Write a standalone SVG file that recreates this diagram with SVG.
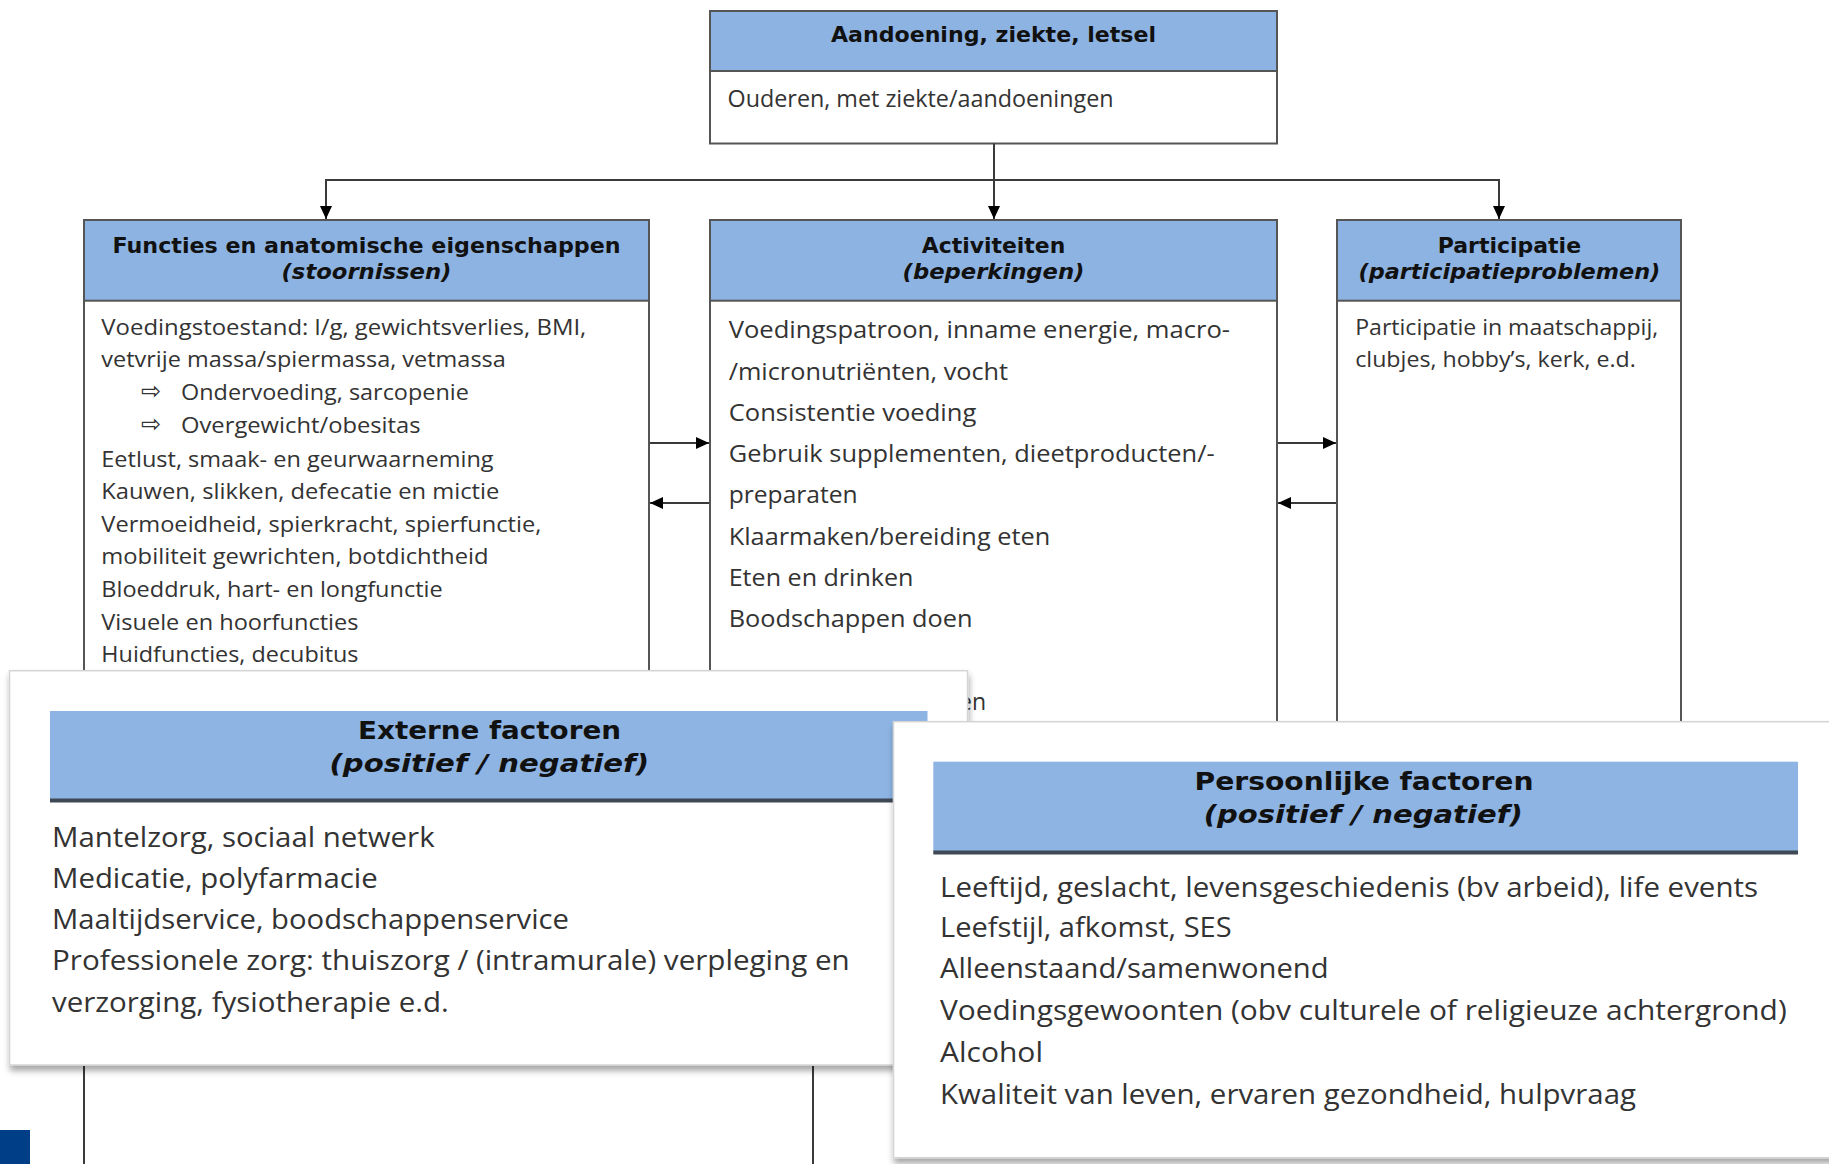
<svg xmlns="http://www.w3.org/2000/svg" width="1829" height="1164" viewBox="0 0 1829 1164">
<style>
.box{fill:#fff;stroke:#555;stroke-width:2}
.hdr{fill:#8DB3E2;stroke:#555;stroke-width:2}
.band{fill:#8DB4E3}
.bandline{stroke:#3E4955;stroke-width:4}
.card{fill:#fff;stroke:#d4d4d4;stroke-width:1.5}
.h{font-family:"DejaVu Sans",Verdana,sans-serif;font-weight:bold;font-size:21.5px;fill:#111}
.hi{font-family:"DejaVu Sans",Verdana,sans-serif;font-weight:bold;font-style:italic;font-size:21.5px;fill:#111}
.big{font-size:25.5px}
.b{font-family:"Open Sans","Noto Sans",sans-serif;fill:#333}
.b21{font-size:21px}
.b23{font-size:23px}
.b26{font-size:26.5px}
.sym{font-family:"DejaVu Sans",sans-serif;font-size:24px;fill:#333}
.conn{stroke:#3a3a3a;stroke-width:2;fill:none}
</style>
<defs>
<marker id="ah" markerUnits="userSpaceOnUse" markerWidth="13" markerHeight="12" refX="13" refY="6" orient="auto">
<path d="M0,0 L13,6 L0,12 z" fill="#000"/>
</marker>
<filter id="sh" x="-5%" y="-5%" width="112%" height="120%">
<feDropShadow dx="1" dy="5" stdDeviation="3" flood-color="#000" flood-opacity="0.35"/>
</filter>
</defs>
<rect width="1829" height="1164" fill="#fff"/>

<g id="node-aandoening">
<rect class="box" x="710" y="11" width="567" height="132.5"/>
<rect class="hdr" x="710" y="11" width="567" height="60"/>
<text class="h" x="993.5" y="42" text-anchor="middle" textLength="325" lengthAdjust="spacingAndGlyphs">Aandoening, ziekte, letsel</text>
<text class="b b23" x="727.6" y="106.7" textLength="386" lengthAdjust="spacingAndGlyphs">Ouderen, met ziekte/aandoeningen</text>
</g>

<g id="node-functies">
<rect class="box" x="84" y="220" width="565" height="780"/>
<rect class="hdr" x="84" y="220" width="565" height="80.7"/>
<text class="h" x="366.5" y="252.7" text-anchor="middle" textLength="508" lengthAdjust="spacingAndGlyphs">Functies en anatomische eigenschappen</text>
<text class="hi" x="366.5" y="279.3" text-anchor="middle" textLength="170" lengthAdjust="spacingAndGlyphs">(stoornissen)</text>
<text class="b b21" x="101.3" y="335" textLength="485" lengthAdjust="spacingAndGlyphs">Voedingstoestand: l/g, gewichtsverlies, BMI,</text>
<text class="b b21" x="101.3" y="366.7" textLength="404.5" lengthAdjust="spacingAndGlyphs">vetvrije massa/spiermassa, vetmassa</text>
<text class="sym" x="141" y="399">⇨</text>
<text class="b b21" x="181" y="400" textLength="287.8" lengthAdjust="spacingAndGlyphs">Ondervoeding, sarcopenie</text>
<text class="sym" x="141" y="432.3">⇨</text>
<text class="b b21" x="181" y="433.3" textLength="239.6" lengthAdjust="spacingAndGlyphs">Overgewicht/obesitas</text>
<text class="b b21" x="101.3" y="466.7" textLength="392.3" lengthAdjust="spacingAndGlyphs">Eetlust, smaak- en geurwaarneming</text>
<text class="b b21" x="101.3" y="499" textLength="398" lengthAdjust="spacingAndGlyphs">Kauwen, slikken, defecatie en mictie</text>
<text class="b b21" x="101.3" y="531.7" textLength="440" lengthAdjust="spacingAndGlyphs">Vermoeidheid, spierkracht, spierfunctie,</text>
<text class="b b21" x="101.3" y="564.3" textLength="387.3" lengthAdjust="spacingAndGlyphs">mobiliteit gewrichten, botdichtheid</text>
<text class="b b21" x="101.3" y="597.3" textLength="341.4" lengthAdjust="spacingAndGlyphs">Bloeddruk, hart- en longfunctie</text>
<text class="b b21" x="101.3" y="630" textLength="257.2" lengthAdjust="spacingAndGlyphs">Visuele en hoorfuncties</text>
<text class="b b21" x="101.3" y="662.3" textLength="257.2" lengthAdjust="spacingAndGlyphs">Huidfuncties, decubitus</text>
</g>

<g id="node-activiteiten">
<rect class="box" x="710" y="220" width="567" height="680"/>
<rect class="hdr" x="710" y="220" width="567" height="80.7"/>
<text class="h" x="993.5" y="252.7" text-anchor="middle" textLength="143.5" lengthAdjust="spacingAndGlyphs">Activiteiten</text>
<text class="hi" x="993.5" y="279.3" text-anchor="middle" textLength="181.8" lengthAdjust="spacingAndGlyphs">(beperkingen)</text>
<text class="b b23" x="728.7" y="338.3" textLength="501.3" lengthAdjust="spacingAndGlyphs">Voedingspatroon, inname energie, macro-</text>
<text class="b b23" x="728.7" y="380" textLength="279.4" lengthAdjust="spacingAndGlyphs">/micronutriënten, vocht</text>
<text class="b b23" x="728.7" y="420.7" textLength="247.6" lengthAdjust="spacingAndGlyphs">Consistentie voeding</text>
<text class="b b23" x="728.7" y="461.7" textLength="486" lengthAdjust="spacingAndGlyphs">Gebruik supplementen, dieetproducten/-</text>
<text class="b b23" x="728.7" y="503.3" textLength="129" lengthAdjust="spacingAndGlyphs">preparaten</text>
<text class="b b23" x="728.7" y="545" textLength="321.5" lengthAdjust="spacingAndGlyphs">Klaarmaken/bereiding eten</text>
<text class="b b23" x="728.7" y="586" textLength="184.8" lengthAdjust="spacingAndGlyphs">Eten en drinken</text>
<text class="b b23" x="728.7" y="627.3" textLength="243.8" lengthAdjust="spacingAndGlyphs">Boodschappen doen</text>
<text class="b b23" x="959" y="710">en</text>
</g>

<g id="node-participatie">
<rect class="box" x="1337" y="220" width="344" height="680"/>
<rect class="hdr" x="1337" y="220" width="344" height="80.7"/>
<text class="h" x="1509.4" y="252.7" text-anchor="middle" textLength="143.3" lengthAdjust="spacingAndGlyphs">Participatie</text>
<text class="hi" x="1509.4" y="279.3" text-anchor="middle" textLength="301.7" lengthAdjust="spacingAndGlyphs">(participatieproblemen)</text>
<text class="b b21" x="1355.2" y="335" textLength="303" lengthAdjust="spacingAndGlyphs">Participatie in maatschappij,</text>
<text class="b b21" x="1355.2" y="366.7" textLength="280.7" lengthAdjust="spacingAndGlyphs">clubjes, hobby’s, kerk, e.d.</text>
</g>

<g id="connectors">
<line class="conn" x1="994" y1="143.5" x2="994" y2="219" marker-end="url(#ah)"/>
<polyline class="conn" points="326,219 326,180 1499,180 1499,219" marker-end="url(#ah)"/>
<line class="conn" x1="326" y1="181" x2="326" y2="219" marker-end="url(#ah)"/>
<line class="conn" x1="650" y1="443" x2="709" y2="443" marker-end="url(#ah)"/>
<line class="conn" x1="709" y1="503" x2="650" y2="503" marker-end="url(#ah)"/>
<line class="conn" x1="1278" y1="443" x2="1336" y2="443" marker-end="url(#ah)"/>
<line class="conn" x1="1336" y1="503" x2="1278" y2="503" marker-end="url(#ah)"/>
<line class="conn" x1="84" y1="1066" x2="84" y2="1164" stroke="#555"/>
<line class="conn" x1="813" y1="1066" x2="813" y2="1164" stroke="#555"/>
</g>

<g id="node-externe">
<rect class="card" x="9.5" y="670.7" width="958" height="394.3" filter="url(#sh)"/>
<rect class="band" x="50" y="711" width="877.5" height="88"/>
<line class="bandline" x1="50" y1="800.5" x2="927.5" y2="800.5"/>
<text class="h big" x="489.5" y="739" text-anchor="middle" textLength="263" lengthAdjust="spacingAndGlyphs">Externe factoren</text>
<text class="hi big" x="489.3" y="772" text-anchor="middle" textLength="319.6" lengthAdjust="spacingAndGlyphs">(positief / negatief)</text>
<text class="b b26" x="52" y="846.5" textLength="382.6" lengthAdjust="spacingAndGlyphs">Mantelzorg, sociaal netwerk</text>
<text class="b b26" x="52" y="887.5" textLength="325.7" lengthAdjust="spacingAndGlyphs">Medicatie, polyfarmacie</text>
<text class="b b26" x="52" y="928.7" textLength="517" lengthAdjust="spacingAndGlyphs">Maaltijdservice, boodschappenservice</text>
<text class="b b26" x="52" y="970" textLength="797.7" lengthAdjust="spacingAndGlyphs">Professionele zorg: thuiszorg / (intramurale) verpleging en</text>
<text class="b b26" x="52" y="1011.7" textLength="396.7" lengthAdjust="spacingAndGlyphs">verzorging, fysiotherapie e.d.</text>
</g>

<g id="node-persoonlijk">
<rect class="card" x="893.5" y="721.7" width="960" height="436" filter="url(#sh)"/>
<rect class="band" x="933.3" y="761.7" width="864.7" height="89.5"/>
<line class="bandline" x1="933.3" y1="852.5" x2="1798" y2="852.5"/>
<text class="h big" x="1364" y="790" text-anchor="middle" textLength="339" lengthAdjust="spacingAndGlyphs">Persoonlijke factoren</text>
<text class="hi big" x="1363.2" y="823" text-anchor="middle" textLength="319" lengthAdjust="spacingAndGlyphs">(positief / negatief)</text>
<text class="b b26" x="940" y="896.7" textLength="818" lengthAdjust="spacingAndGlyphs">Leeftijd, geslacht, levensgeschiedenis (bv arbeid), life events</text>
<text class="b b26" x="940" y="937.3" textLength="291.7" lengthAdjust="spacingAndGlyphs">Leefstijl, afkomst, SES</text>
<text class="b b26" x="940" y="978.3" textLength="388.5" lengthAdjust="spacingAndGlyphs">Alleenstaand/samenwonend</text>
<text class="b b26" x="940" y="1020" textLength="846.7" lengthAdjust="spacingAndGlyphs">Voedingsgewoonten (obv culturele of religieuze achtergrond)</text>
<text class="b b26" x="940" y="1061.7" textLength="103" lengthAdjust="spacingAndGlyphs">Alcohol</text>
<text class="b b26" x="940" y="1104" textLength="696" lengthAdjust="spacingAndGlyphs">Kwaliteit van leven, ervaren gezondheid, hulpvraag</text>
</g>

<rect id="corner-mark" x="0" y="1130" width="30" height="34" fill="#003F87"/>
</svg>
